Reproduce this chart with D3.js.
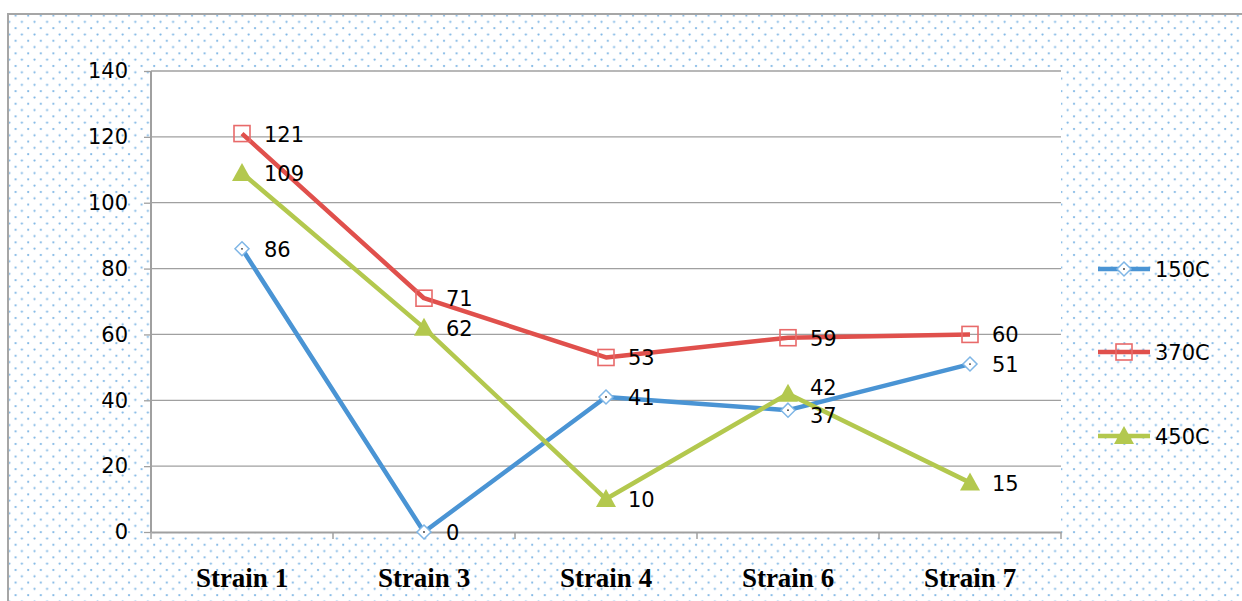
<!DOCTYPE html>
<html><head><meta charset="utf-8">
<script src="https://cdn.jsdelivr.net/npm/d3@7"></script>
<style>body{margin:0;background:#fff;}svg{display:block;}</style>
</head><body>
<svg id="c" width="1242" height="601"></svg>
<script>
const categories = ["Strain 1","Strain 3","Strain 4","Strain 6","Strain 7"];
const seriesNames = ["150C","370C","450C"];
const s150 = [86,0,41,37,51];
const s370 = [121,71,53,59,60];
const s450 = [109,62,10,42,15];
const yTicks = [0,20,40,60,80,100,120,140];
const colors = ["#4a94d4","#e0504c","#b3c84e"];
const markers = ["diamond","square","triangle"];

(function(){
const svg = d3.select("#c");
const defs = svg.append("defs");
const pat = defs.append("pattern").attr("id","dots").attr("patternUnits","userSpaceOnUse")
  .attr("width",12.6).attr("height",12.6);
pat.append("rect").attr("width",12.6).attr("height",12.6).attr("fill","#fff");
pat.append("circle").attr("cx",3).attr("cy",3).attr("r",1.1).attr("fill","#7ab4e4");
pat.append("circle").attr("cx",9.3).attr("cy",9.3).attr("r",1.1).attr("fill","#7ab4e4");

svg.append("rect").attr("x",8).attr("y",14).attr("width",1240).attr("height",600)
  .attr("fill","url(#dots)").attr("stroke","#a6a6a6").attr("stroke-width",2);

const pLeft=151, pRight=1061, pTop=71, pBottom=532;
const x = d3.scaleBand().domain(categories).range([pLeft,pRight]);
const y = d3.scaleLinear().domain([0,140]).range([pBottom,pTop]);

svg.append("rect").attr("x",pLeft).attr("y",pTop).attr("width",pRight-pLeft).attr("height",pBottom-pTop).attr("fill","#fff");

svg.append("g").selectAll("line").data(yTicks.filter(d=>d>0)).join("line")
  .attr("x1",pLeft).attr("x2",pRight).attr("y1",d=>y(d)).attr("y2",d=>y(d))
  .attr("stroke","#a0a0a0").attr("stroke-width",1.3);

const ya = svg.append("g").attr("transform",`translate(${pLeft},0)`)
  .call(d3.axisLeft(y).tickValues(yTicks).tickSize(7).tickPadding(16));
ya.select(".domain").attr("stroke","#a0a0a0").attr("stroke-width",2).attr("d",`M0,${pTop}V${pBottom}`);
ya.selectAll(".tick line").attr("stroke","#a0a0a0").attr("stroke-width",1.3);
ya.selectAll(".tick text").attr("font-family","DejaVu Sans, sans-serif").attr("font-size",21).attr("fill","#000");

const xa = svg.append("g").attr("transform",`translate(0,${pBottom})`)
  .call(d3.axisBottom(x).tickSize(0).tickPadding(36));
xa.select(".domain").attr("stroke","#a0a0a0").attr("stroke-width",2);
xa.selectAll(".tick text").attr("font-family","Liberation Serif, serif").attr("font-weight","bold").attr("font-size",27).attr("fill","#000");
svg.append("g").selectAll("line").data(d3.range(categories.length+1)).join("line")
  .attr("x1",i=>pLeft+i*x.step()).attr("x2",i=>pLeft+i*x.step())
  .attr("y1",pBottom).attr("y2",pBottom+7).attr("stroke","#a0a0a0").attr("stroke-width",1.5);

const series = [s150,s370,s450];
function drawMarker(g, type, color, cx, cy){
  if(type==="diamond"){
    g.append("path").attr("d",`M${cx},${cy-7}L${cx+7},${cy}L${cx},${cy+7}L${cx-7},${cy}Z`)
      .attr("fill","#fff").attr("stroke","#7fb6e6").attr("stroke-width",1.5);
    g.append("circle").attr("cx",cx).attr("cy",cy).attr("r",0.9).attr("fill","#333");
  } else if(type==="square"){
    g.append("rect").attr("x",cx-8).attr("y",cy-8).attr("width",16).attr("height",16)
      .attr("fill","none").attr("stroke","#e86a6a").attr("stroke-width",1.6);
  } else {
    g.append("path").attr("d",`M${cx},${cy-10}L${cx+10},${cy+8}L${cx-10},${cy+8}Z`)
      .attr("fill",color);
  }
}
const line = d3.line().x((d,i)=>x(categories[i])+x.bandwidth()/2).y(d=>y(d));
series.forEach((vals,si)=>{
  svg.append("path").datum(vals).attr("d",line).attr("fill","none")
    .attr("stroke",colors[si]).attr("stroke-width",4.5).attr("stroke-linejoin","round");
});
series.forEach((vals,si)=>{
  const g = svg.append("g");
  vals.forEach((v,i)=>{
    drawMarker(g, markers[si], colors[si], x(categories[i])+x.bandwidth()/2, y(v));
  });
});
const labelOffsetY = [[8,8,8,13,8],[8,8,8,8,8],[8,8,8,1,8]];
series.forEach((vals,si)=>{
  svg.append("g").selectAll("text").data(vals).join("text")
    .attr("x",(d,i)=>x(categories[i])+x.bandwidth()/2+22)
    .attr("y",(d,i)=>y(d)+labelOffsetY[si][i])
    .attr("font-family","DejaVu Sans, sans-serif").attr("font-size",21).attr("fill","#000")
    .text(d=>d);
});

const lg = svg.append("g");
seriesNames.forEach((n,i)=>{
  const ly = [269,352,436][i];
  lg.append("line").attr("x1",1098).attr("x2",1150).attr("y1",ly).attr("y2",ly)
    .attr("stroke",colors[i]).attr("stroke-width",4.5);
  drawMarker(lg, markers[i], colors[i], 1124, ly);
  lg.append("text").attr("x",1155).attr("y",ly+8).attr("font-family","DejaVu Sans, sans-serif")
    .attr("font-size",21).attr("fill","#000").text(n);
});
})();
</script>
</body></html>
